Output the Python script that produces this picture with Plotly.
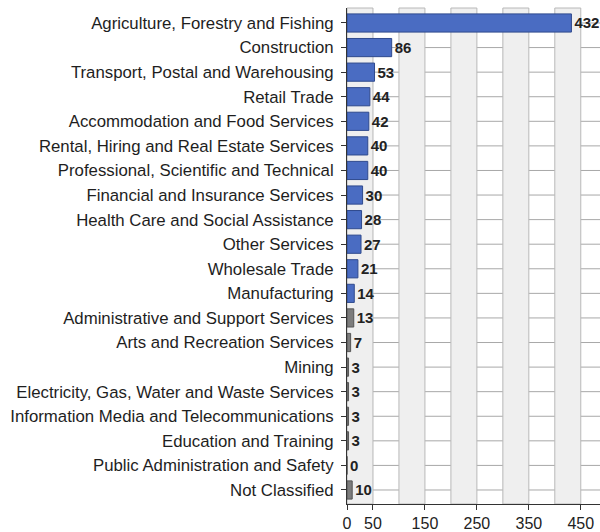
import plotly.graph_objects as go

industries = [
    "Agriculture, Forestry and Fishing",
    "Construction",
    "Transport, Postal and Warehousing",
    "Retail Trade",
    "Accommodation and Food Services",
    "Rental, Hiring and Real Estate Services",
    "Professional, Scientific and Technical",
    "Financial and Insurance Services",
    "Health Care and Social Assistance",
    "Other Services",
    "Wholesale Trade",
    "Manufacturing",
    "Administrative and Support Services",
    "Arts and Recreation Services",
    "Mining",
    "Electricity, Gas, Water and Waste Services",
    "Information Media and Telecommunications",
    "Education and Training",
    "Public Administration and Safety",
    "Not Classified",
]
counts = [432, 86, 53, 44, 42, 40, 40, 30, 28, 27, 21, 14, 13, 7, 3, 3, 3, 3, 0, 10]
highlighted = [True] * 12 + [False] * 8

x_tick_values = [0, 50, 150, 250, 350, 450]
band_starts = [0, 100, 200, 300, 400]
band_width = 50
x_max = 487

BLUE = "#4a6cc2"
BLUE_EDGE = "#2f4a8e"
GREY = "#7c7c7c"
GREY_EDGE = "#555555"
GRID = "#a8a8a8"
FONT = "Liberation Sans, Arial, sans-serif"

fill_colors = [BLUE if h else GREY for h in highlighted]
edge_colors = [BLUE_EDGE if h else GREY_EDGE for h in highlighted]

fig = go.Figure(
    go.Bar(
        x=counts,
        y=industries,
        orientation="h",
        width=0.74,
        marker=dict(color=fill_colors, line=dict(color=edge_colors, width=1)),
        text=[str(v) for v in counts],
        textposition="outside",
        textfont=dict(family=FONT, size=15, color="#222222", weight="bold"),
        cliponaxis=False,
        hoverinfo="x+y",
    )
)

# row rules through each category
for name in industries:
    fig.add_shape(
        type="line",
        xref="paper",
        yref="y",
        x0=0,
        x1=1,
        y0=name,
        y1=name,
        line=dict(color=GRID, width=1),
        layer="below",
    )

# alternating shaded columns drawn over the row rules
for start in band_starts:
    fig.add_shape(
        type="rect",
        xref="x",
        yref="paper",
        x0=start,
        x1=start + band_width,
        y0=0,
        y1=1,
        fillcolor="#efefef",
        line=dict(color="#b8b8b8", width=1),
        layer="below",
    )

fig.update_layout(
    width=600,
    height=532,
    margin=dict(l=347, r=0, t=8, b=26),
    paper_bgcolor="white",
    plot_bgcolor="white",
    showlegend=False,
    font=dict(family=FONT, size=16.8, color="#222222"),
)

fig.update_xaxes(
    range=[0, x_max],
    tickvals=x_tick_values,
    ticktext=[str(v) for v in x_tick_values],
    ticks="outside",
    ticklen=5,
    tickcolor="#333333",
    showline=True,
    linecolor="#333333",
    linewidth=1,
    showgrid=False,
    zeroline=False,
    tickfont=dict(size=16, color="#222222"),
    fixedrange=True,
)

fig.update_yaxes(
    categoryorder="array",
    categoryarray=industries,
    range=[19.57, -0.61],
    ticks="outside",
    ticklen=5,
    tickcolor="#333333",
    showline=True,
    linecolor="#333333",
    linewidth=1,
    showgrid=False,
    ticklabelstandoff=4,
    tickfont=dict(size=16.8, color="#1e1e1e"),
    fixedrange=True,
)

fig.write_html("out.html")
